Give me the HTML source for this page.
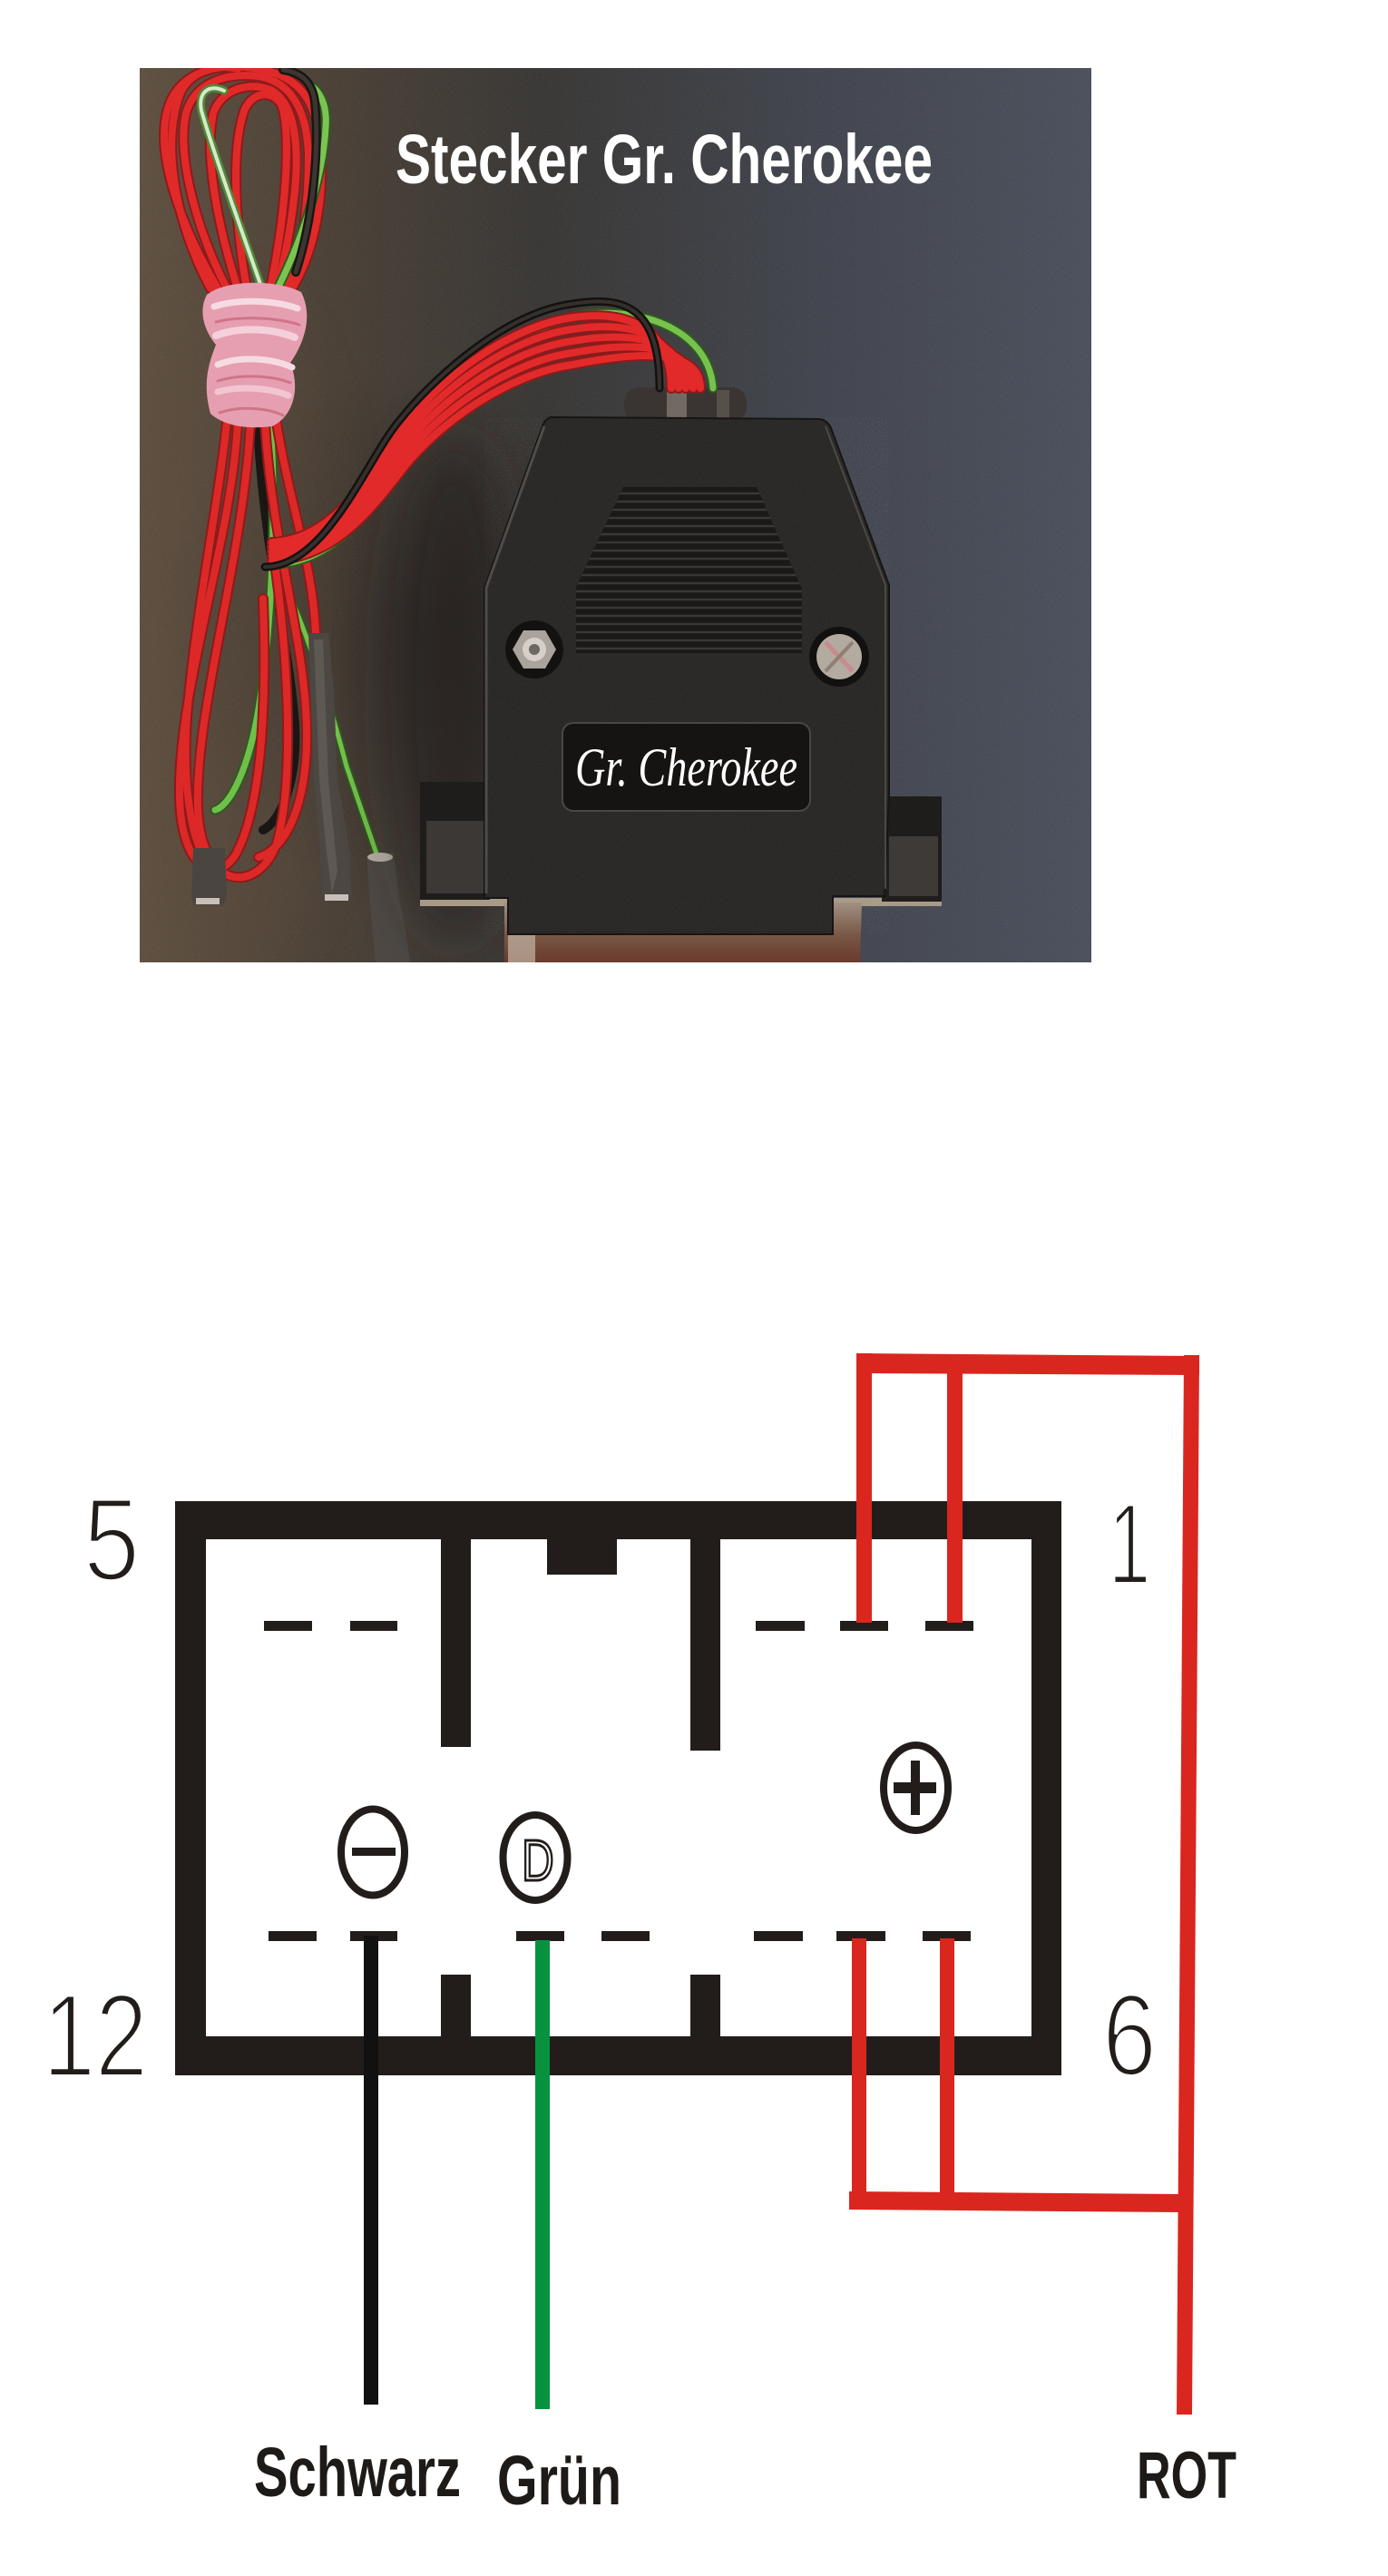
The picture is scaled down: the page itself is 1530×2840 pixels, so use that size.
<!DOCTYPE html>
<html>
<head>
<meta charset="utf-8">
<style>
html,body{margin:0;padding:0;background:#fff;}
svg{display:block;}
</style>
</head>
<body>
<svg xmlns="http://www.w3.org/2000/svg" width="1530" height="2840" viewBox="0 0 1530 2840">
<defs>
  <clipPath id="photoClip"><rect x="154" y="75" width="1049" height="986"/></clipPath>
  <linearGradient id="bg" x1="154" y1="0" x2="1203" y2="0" gradientUnits="userSpaceOnUse">
    <stop offset="0" stop-color="#5f5040"/>
    <stop offset="0.2" stop-color="#4a4036"/>
    <stop offset="0.42" stop-color="#393735"/>
    <stop offset="0.7" stop-color="#41444d"/>
    <stop offset="1" stop-color="#4b505c"/>
  </linearGradient>
  <radialGradient id="shadow" cx="470" cy="700" r="300" gradientUnits="userSpaceOnUse">
    <stop offset="0" stop-color="#2a2622" stop-opacity="0.6"/>
    <stop offset="1" stop-color="#2a2622" stop-opacity="0"/>
  </radialGradient>
  <linearGradient id="shell" x1="0" y1="995" x2="0" y2="1061" gradientUnits="userSpaceOnUse">
    <stop offset="0" stop-color="#a09080"/>
    <stop offset="0.5" stop-color="#7a5a48"/>
    <stop offset="1" stop-color="#6a3a2c"/>
  </linearGradient>
  <filter id="noise" x="0" y="0" width="100%" height="100%">
    <feTurbulence type="fractalNoise" baseFrequency="0.85" numOctaves="2" seed="4"/>
    <feColorMatrix type="matrix" values="0 0 0 0 1  0 0 0 0 1  0 0 0 0 1  0.9 0 0 0 -0.38"/>
  </filter>
  <filter id="blur30" x="-50%" y="-50%" width="200%" height="200%">
    <feGaussianBlur stdDeviation="30"/>
  </filter>
  <clipPath id="grilleClip"><polygon points="687,537 834,537 884,649 884,720 635,720 635,647"/></clipPath>

  <!-- wire paths -->
  <path id="t1" d="M 240 318 C 200 250, 170 170, 185 120 C 195 85, 230 70, 270 74 C 320 78, 345 100, 352 150 C 360 220, 345 280, 322 318"/>
  <path id="t2" d="M 250 318 C 215 250, 195 170, 205 125 C 215 90, 250 80, 285 84 C 320 90, 338 120, 340 170 C 340 240, 330 290, 315 318"/>
  <path id="t3" d="M 262 318 C 240 250, 225 170, 235 125 C 245 95, 280 90, 300 100 C 325 115, 330 160, 325 210 C 320 260, 310 300, 305 318"/>
  <path id="t4" d="M 272 318 C 258 240, 255 160, 270 120 C 280 100, 300 100, 310 115 C 320 140, 318 220, 298 318"/>
  <path id="t5" d="M 232 318 C 190 240, 178 150, 200 100 C 212 78, 240 70, 262 76"/>
  <path id="tw" d="M 288 316 C 265 250, 236 170, 222 122 C 218 102, 230 92, 247 100"/>
  <path id="tg" d="M 306 318 C 330 270, 356 200, 359 140 C 361 115, 352 100, 342 94"/>
  <path id="tb" d="M 326 300 C 346 240, 352 160, 347 112 C 344 90, 332 80, 312 77"/>

  <path id="b1" d="M 262 466 C 255 600, 195 760, 198 880 C 200 955, 235 975, 258 945 C 285 900, 295 800, 290 660"/>
  <path id="b2" d="M 276 466 C 268 620, 215 780, 218 890 C 222 985, 285 985, 305 930 C 325 860, 318 720, 300 600"/>
  <path id="b3" d="M 292 466 C 300 600, 335 700, 338 800 C 340 880, 318 935, 285 945"/>
  <path id="b4" d="M 305 466 C 320 560, 345 620, 348 700"/>
  <path id="b5" d="M 250 466 C 240 560, 215 680, 206 790 C 200 880, 215 950, 240 960"/>
  <path id="bg1" d="M 298 466 C 305 560, 300 700, 283 793 C 270 860, 250 890, 237 893"/>
  <path id="bg2" d="M 312 640 C 340 700, 365 780, 382 845 L 418 950"/>
  <path id="bb1" d="M 284 466 C 290 600, 320 720, 325 800 C 328 860, 310 905, 290 915"/>

  <path id="cb" d="M 292 625 C 360 625, 405 505, 440 464 C 475 420, 555 345, 631 335 C 690 325, 727 340, 727 428"/>
  <path id="cg" d="M 305 622 C 375 618, 410 555, 440 512 C 480 440, 570 355, 650 346 C 720 340, 782 370, 786 428"/>
  <path id="cr0" d="M 300 598 C 370 595, 410 520, 440 478 C 480 420, 560 360, 631 350 C 690 342, 740 360, 740 428"/>
  <path id="cr1" d="M 300 603 C 370 600, 410 530, 440 489 C 480 432, 560 373, 631 363 C 690 354, 748 365, 748 428"/>
  <path id="cr2" d="M 300 608 C 370 605, 410 540, 440 500 C 480 444, 560 386, 631 376 C 690 366, 756 370, 756 428"/>
  <path id="cr3" d="M 300 613 C 370 610, 410 550, 440 511 C 480 456, 560 399, 631 389 C 690 378, 764 375, 764 428"/>
  <path id="cr4" d="M 300 618 C 370 615, 410 560, 440 522 C 480 468, 560 412, 631 402 C 690 390, 772 380, 772 428"/>
</defs>

<!-- ================= PHOTO ================= -->
<g clip-path="url(#photoClip)">
  <rect x="154" y="75" width="1049" height="986" fill="url(#bg)"/>
  <rect x="154" y="75" width="1049" height="986" fill="url(#shadow)"/>
  <ellipse cx="250" cy="700" rx="130" ry="380" fill="#5a4a3a" opacity="0.3" filter="url(#blur30)"/>
  <rect x="154" y="75" width="1049" height="986" filter="url(#noise)" opacity="0.16"/>

  <!-- title -->
  <text x="436" y="202" font-family="'Liberation Sans', sans-serif" font-weight="bold" font-size="77" fill="#ffffff" textLength="592" lengthAdjust="spacingAndGlyphs">Stecker Gr. Cherokee</text>

  <!-- wires top loops -->
  <g fill="none" stroke-linecap="round">
    <g stroke="#8e1a1a" stroke-width="12">
      <use href="#t5"/><use href="#t1"/><use href="#t2"/><use href="#t3"/><use href="#t4"/>
    </g>
    <g stroke="#e02a2a" stroke-width="8">
      <use href="#t5"/><use href="#t1"/><use href="#t2"/><use href="#t3"/><use href="#t4"/>
    </g>
    <use href="#tw" stroke="#4f8a36" stroke-width="9"/>
    <use href="#tw" stroke="#d8e8cc" stroke-width="4"/>
    <use href="#tg" stroke="#2f5a20" stroke-width="11"/>
    <use href="#tg" stroke="#7cc452" stroke-width="7"/>
    <use href="#tb" stroke="#1a1614" stroke-width="10"/>
    <use href="#tb" stroke="#3d3530" stroke-width="5"/>
  </g>

  <!-- wires below band -->
  <g fill="none" stroke-linecap="round">
    <use href="#bb1" stroke="#1a1614" stroke-width="10"/>
    <use href="#bg1" stroke="#2f5a20" stroke-width="11"/>
    <use href="#bg1" stroke="#6fc04a" stroke-width="7"/>
    <use href="#bg2" stroke="#2f5a20" stroke-width="9"/>
    <use href="#bg2" stroke="#74c24c" stroke-width="5"/>
    <g stroke="#8e1a1a" stroke-width="12">
      <use href="#b5"/><use href="#b1"/><use href="#b2"/><use href="#b3"/><use href="#b4"/>
    </g>
    <g stroke="#dd2828" stroke-width="8">
      <use href="#b5"/><use href="#b1"/><use href="#b2"/><use href="#b3"/><use href="#b4"/>
    </g>
  </g>

  <!-- terminals -->
  <path d="M 213 935 L 248 935 L 250 990 L 246 998 L 214 998 L 211 990 Z" fill="#4a4540"/>
  <rect x="216" y="990" width="26" height="7" fill="#c8c0b8"/>
  <path d="M 340 698 L 362 698 L 368 760 L 372 860 L 386 940 L 387 990 L 356 994 L 353 940 L 346 860 L 342 760 Z" fill="#4c4742"/>
  <path d="M 346 705 L 356 705 L 362 860 L 372 960 L 366 985 L 360 940 L 352 860 Z" fill="#66605a" opacity="0.7"/>
  <rect x="358" y="986" width="26" height="7" fill="#c8c0b8"/>
  <path d="M 404 943 L 434 940 L 440 990 L 448 1030 L 452 1061 L 414 1061 L 410 1020 Z" fill="#4e4944"/>
  <ellipse cx="419" cy="945" rx="14" ry="5" fill="#b8b0a6"/>

  <!-- rubber band -->
  <path d="M 228 325 C 245 310, 300 306, 332 322 C 346 350, 334 380, 320 400 C 332 430, 322 460, 300 470 C 270 474, 245 468, 232 456 C 222 420, 232 396, 238 380 C 222 360, 220 340, 228 325 Z" fill="#e69fb0"/>
  <g fill="none" stroke-linecap="round">
    <path d="M 236 338 C 260 330, 300 330, 328 340" stroke="#f7dbe2" stroke-width="7"/>
    <path d="M 238 370 C 265 360, 300 362, 325 372" stroke="#f4d0da" stroke-width="8"/>
    <path d="M 240 402 C 265 392, 300 395, 322 405" stroke="#f7dbe2" stroke-width="7"/>
    <path d="M 240 432 C 265 425, 298 428, 318 436" stroke="#f1c6d1" stroke-width="7"/>
    <path d="M 238 355 C 265 348, 305 350, 330 358" stroke="#d07488" stroke-width="3"/>
    <path d="M 240 420 C 265 412, 300 414, 320 422" stroke="#d07488" stroke-width="3"/>
    <path d="M 242 455 C 265 447, 296 450, 312 458" stroke="#d07488" stroke-width="3"/>
  </g>

  <!-- connector shadow -->
  <ellipse cx="500" cy="760" rx="70" ry="280" fill="#221e1b" opacity="0.6" filter="url(#blur30)"/>

  <!-- metal flange line and shell -->
  <rect x="463" y="990" width="575" height="9" fill="#a89a88"/>
  <path d="M 556 995 L 950 995 L 948 1061 L 556 1061 Z" fill="url(#shell)"/>
  <rect x="560" y="1000" width="30" height="61" fill="#c4b6a6" opacity="0.7"/>

  <!-- flanges -->
  <rect x="463" y="862" width="77" height="130" fill="#1f1d1c"/>
  <rect x="470" y="905" width="64" height="80" fill="#3b3835"/>
  <rect x="972" y="878" width="66" height="116" fill="#1f1d1c"/>
  <rect x="980" y="922" width="54" height="66" fill="#3d3a37"/>

  <!-- boot -->
  <rect x="688" y="427" width="135" height="38" rx="16" fill="#3a3532"/>
  <rect x="735" y="430" width="22" height="32" fill="#8a8078" opacity="0.7"/>
  <rect x="790" y="430" width="14" height="32" fill="#6a615a" opacity="0.6"/>

  <!-- wires branch to connector -->
  <g fill="none" stroke-linecap="round">
    <use href="#cg" stroke="#2f5a20" stroke-width="11"/>
    <use href="#cg" stroke="#76c24c" stroke-width="7"/>
    <g stroke="#8e1a1a" stroke-width="12">
      <use href="#cr4"/><use href="#cr3"/><use href="#cr2"/><use href="#cr1"/><use href="#cr0"/>
    </g>
    <g stroke="#e22a2a" stroke-width="8">
      <use href="#cr4"/><use href="#cr3"/><use href="#cr2"/><use href="#cr1"/><use href="#cr0"/>
    </g>
    <use href="#cb" stroke="#141110" stroke-width="9"/>
    <use href="#cb" stroke="#35302c" stroke-width="4"/>
  </g>

  <!-- hood -->
  <path d="M 608 460 L 903 462 Q 912 463 916 472 L 980 645 L 980 875 L 975 988 L 918 988 L 918 1030 L 560 1030 L 560 990 L 534 990 L 534 648 L 598 470 Q 601 461 608 460 Z" fill="#2a2826" stroke="#151312" stroke-width="2"/>
  <path d="M 600 470 L 536 648 L 536 985" fill="none" stroke="#4e4a46" stroke-width="3"/>
  <path d="M 910 470 L 976 645 L 976 980" fill="none" stroke="#4a4744" stroke-width="2"/>
  <rect x="534" y="460" width="446" height="570" filter="url(#noise)" opacity="0.12"/>

  <!-- grille -->
  <polygon points="687,537 834,537 884,649 884,720 635,720 635,647" fill="#1b1918"/>
  <g clip-path="url(#grilleClip)" stroke="#3a3734" stroke-width="2.5">
    <line x1="620" y1="544" x2="900" y2="544"/><line x1="620" y1="553" x2="900" y2="553"/>
    <line x1="620" y1="562" x2="900" y2="562"/><line x1="620" y1="571" x2="900" y2="571"/>
    <line x1="620" y1="580" x2="900" y2="580"/><line x1="620" y1="589" x2="900" y2="589"/>
    <line x1="620" y1="598" x2="900" y2="598"/><line x1="620" y1="607" x2="900" y2="607"/>
    <line x1="620" y1="616" x2="900" y2="616"/><line x1="620" y1="625" x2="900" y2="625"/>
    <line x1="620" y1="634" x2="900" y2="634"/><line x1="620" y1="643" x2="900" y2="643"/>
    <line x1="620" y1="652" x2="900" y2="652"/><line x1="620" y1="661" x2="900" y2="661"/>
    <line x1="620" y1="670" x2="900" y2="670"/><line x1="620" y1="679" x2="900" y2="679"/>
    <line x1="620" y1="688" x2="900" y2="688"/><line x1="620" y1="697" x2="900" y2="697"/>
    <line x1="620" y1="706" x2="900" y2="706"/><line x1="620" y1="715" x2="900" y2="715"/>
  </g>

  <!-- screws -->
  <circle cx="589" cy="716" r="32" fill="#131211"/>
  <polygon points="613,716 601,737 577,737 565,716 577,695 601,695" fill="#a9a39c"/>
  <circle cx="589" cy="716" r="13" fill="#d6d0c8"/>
  <circle cx="589" cy="716" r="6" fill="#6e6862"/>
  <circle cx="925" cy="724" r="33" fill="#121110"/>
  <circle cx="925" cy="724" r="25" fill="#b3aaa0"/>
  <line x1="910" y1="708" x2="940" y2="740" stroke="#c98a90" stroke-width="5"/>
  <line x1="940" y1="708" x2="910" y2="740" stroke="#8e7f74" stroke-width="4"/>

  <!-- label plate -->
  <rect x="620" y="797" width="273" height="97" rx="12" fill="#161413" stroke="#4a4643" stroke-width="2"/>
  <text x="634" y="866" font-family="'Liberation Serif', 'DejaVu Serif', serif" font-style="italic" font-size="60" fill="#ffffff" textLength="245" lengthAdjust="spacingAndGlyphs">Gr. Cherokee</text>
</g>

<!-- ================= DIAGRAM ================= -->
<path fill-rule="evenodd" fill="#221d1a" d="M193 1655 H1170 V2288 H193 Z M227 1697 H1137 V2245 H227 Z"/>
<rect x="486" y="1697" width="33" height="229" fill="#221d1a"/>
<rect x="761" y="1697" width="33" height="233" fill="#221d1a"/>
<rect x="603" y="1697" width="77" height="39" fill="#221d1a"/>
<rect x="486" y="2177" width="33" height="68" fill="#221d1a"/>
<rect x="761" y="2177" width="33" height="68" fill="#221d1a"/>

<g fill="#221d1a">
  <rect x="291" y="1787" width="53" height="11"/>
  <rect x="386" y="1787" width="52" height="11"/>
  <rect x="833" y="1787" width="54" height="11"/>
  <rect x="926" y="1787" width="53" height="11"/>
  <rect x="1020" y="1787" width="53" height="11"/>
  <rect x="296" y="2129" width="53" height="11"/>
  <rect x="386" y="2129" width="52" height="11"/>
  <rect x="569" y="2129" width="53" height="11"/>
  <rect x="663" y="2129" width="53" height="11"/>
  <rect x="831" y="2129" width="54" height="11"/>
  <rect x="922" y="2129" width="54" height="11"/>
  <rect x="1017" y="2129" width="53" height="11"/>
</g>

<ellipse cx="411" cy="2042" rx="35" ry="47.5" fill="none" stroke="#221d1a" stroke-width="8"/>
<rect x="388" y="2037" width="48" height="9" fill="#221d1a"/>
<ellipse cx="590" cy="2048" rx="35.5" ry="47" fill="none" stroke="#221d1a" stroke-width="8"/>
<text x="-5" y="0" transform="translate(579,2073) scale(0.77,1)" font-family="'Liberation Sans', sans-serif" font-size="64" fill="#ffffff" stroke="#221d1a" stroke-width="3">D</text>
<ellipse cx="1009.5" cy="1971" rx="35.5" ry="47" fill="none" stroke="#221d1a" stroke-width="8"/>
<rect x="985" y="1965" width="47" height="12" fill="#221d1a"/>
<rect x="1004" y="1941" width="10" height="60" fill="#221d1a"/>

<rect x="401" y="2134" width="16" height="517" fill="#111111"/>
<rect x="590" y="2139" width="16" height="517" fill="#07923f"/>

<g fill="#d9261f">
  <rect x="944" y="1492" width="17" height="297"/>
  <rect x="1044" y="1505" width="17" height="284"/>
  <polygon points="944,1492 1322,1495 1322,1516 944,1514"/>
  <polygon points="1305,1494 1322,1494 1314,2662 1297,2662"/>
  <rect x="939" y="2137" width="16" height="290"/>
  <rect x="1036" y="2137" width="16" height="290"/>
  <polygon points="936,2416 1303,2419 1303,2439 936,2436"/>
</g>

<g font-family="'Liberation Sans', sans-serif" fill="#221d1a" stroke="#ffffff" stroke-width="4" text-anchor="middle">
  <text x="0" y="0" transform="translate(123,1742) scale(0.86,1)" font-size="130">5</text>
  <text x="0" y="0" transform="translate(1245,1746) scale(0.66,1)" font-size="127">1</text>
  <text x="0" y="0" transform="translate(105,2289) scale(0.8,1)" font-size="130">12</text>
  <text x="0" y="0" transform="translate(1245,2288) scale(0.84,1)" font-size="128">6</text>
</g>

<g font-family="'Liberation Sans', sans-serif" font-weight="bold" fill="#1e1a18">
  <text x="280" y="2752" font-size="77" textLength="228" lengthAdjust="spacingAndGlyphs">Schwarz</text>
  <text x="548" y="2761" font-size="77" textLength="137" lengthAdjust="spacingAndGlyphs">Grün</text>
  <text x="1253" y="2754" font-size="73" textLength="110" lengthAdjust="spacingAndGlyphs">ROT</text>
</g>
</svg>
</body>
</html>
